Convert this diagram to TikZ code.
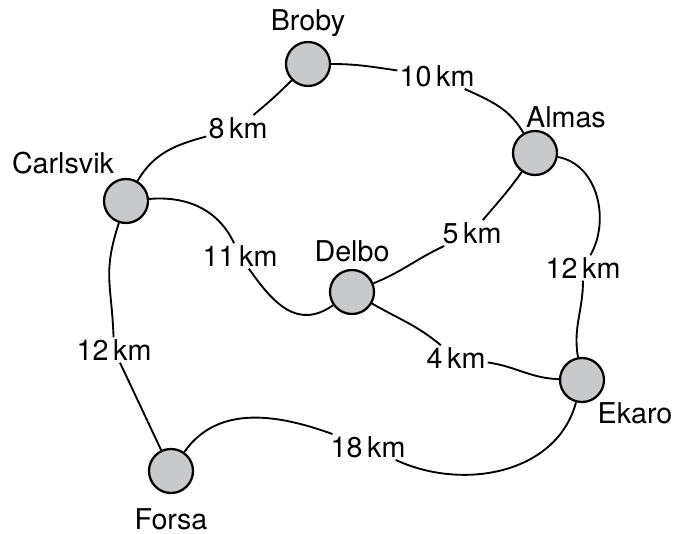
\documentclass[tikz,border=0pt]{standalone}
\usepackage{fontspec}
\setmainfont{TeX Gyre Heros}
\usepackage{xcolor}
\usepackage{tikz}
\definecolor{towngray}{RGB}{200,201,203}

\begin{document}
\begin{tikzpicture}[x=0.75pt,y=-0.75pt,
    town/.style={circle,draw,line width=1.7pt,fill=towngray,minimum size=33pt,inner sep=0pt},
    dist/.style={inner sep=1.5pt,font=\fontsize{21.5}{25}\selectfont},
    townname/.style={font=\fontsize{21.5}{25}\selectfont},
    road/.style={line width=1.4pt}]
    \useasboundingbox (0,0) rectangle (675,534);
    % towns
    \foreach \t/\x/\y in {B/308/64,A/535/153,C/126/201,D/352/292,E/582/380,F/171/471}
      \node[town] (\t) at (\x,\y) {};
    \node[townname] (nB) at (308,23) {Broby};
    \node[townname] (nA) at (566,117) {Almas};
    \node[townname] (nC) at (63,163) {Carlsvik};
    \node[townname] (nD) at (352,251) {Delbo};
    \node[townname] (nE) at (635,413) {Ekaro};
    \node[townname] (nF) at (171,519) {Forsa};
    % distances
    \node[dist] (d8) at (238,128) {8\,km};
    \node[dist] (d10) at (437,76) {10\,km};
    \node[dist] (d5) at (472,233) {5\,km};
    \node[dist] (d12r) at (583,268) {12\,km};
    \node[dist] (d11) at (240,256) {11\,km};
    \node[dist] (d4) at (456,358) {4\,km};
    \node[dist] (d12l) at (114,350) {12\,km};
    \node[dist] (d18) at (368,447) {18\,km};
    % roads
    \draw[road] (C) to[out=60,in=195] (d8) (d8) to[out=40,in=225] (B);
    \draw[road] (B) to[out=0,in=172] (d10) (d10) to[out=-25,in=120] (A);
    \draw[road] (A) to[out=235,in=50] (d5) (d5) to[out=205,in=22] (D);
    \draw[road] (A) to[out=-10,in=60] (d12r) (d12r) to[out=-90,in=100] (E);
    \draw[road] (C) to[out=5,in=115] (d11) (d11) to[out=-55,in=215,looseness=1.2] (D);
    \draw[road] (D) to[out=-30,in=140] (d4) (d4) to[out=-8,in=178] (E);
    \draw[road] (C) to[out=-108,in=92,looseness=1.2] (d12l) (d12l) -- (F);
    \draw[road] (F) to[out=55,in=160] (d18) (d18) to[out=-25,in=-105] (E);
  \end{tikzpicture}
\end{document}
